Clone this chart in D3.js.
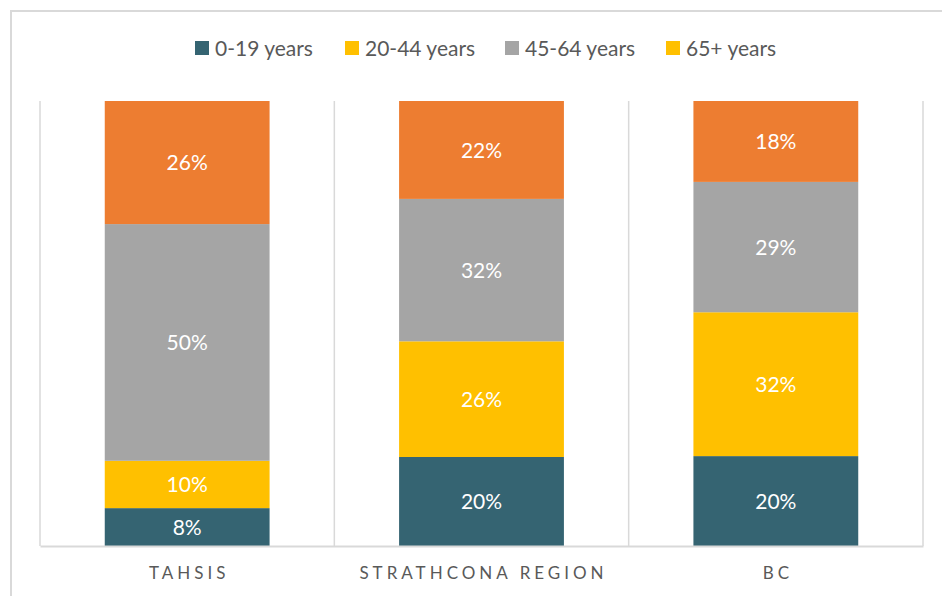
<!DOCTYPE html>
<html>
<head>
<meta charset="utf-8">
<script src="https://cdn.jsdelivr.net/npm/d3@7"></script>
<style>
  body { margin: 0; background: #fff; }
  text { font-family: Lato, "Open Sans", sans-serif; }
</style>
</head>
<body>
<svg id="chart" width="942" height="596"></svg>
<script>
// chart data
var regions = ["TAHSIS", "STRATHCONA REGION", "BC"];
var ageGroups = ["0-19 years", "20-44 years", "45-64 years", "65+ years"];
var age0to19 = [8, 20, 20];
var age20to44 = [10, 26, 32];
var age45to64 = [50, 32, 29];
var age65plus = [26, 22, 18];

var barColors = ["#356472", "#FFC000", "#A5A5A5", "#ED7D31"];
// the original legend shows the 65+ swatch in yellow
var legendColors = ["#356472", "#FFC000", "#A5A5A5", "#FFC000"];

var rows = regions.map(function(r, i) {
    return { region: r, "0-19 years": age0to19[i], "20-44 years": age20to44[i],
             "45-64 years": age45to64[i], "65+ years": age65plus[i] };
});

var svg = d3.select("#chart");
var margin = { left: 40, right: 19, top: 101, bottom: 50 };
var width = 942 - margin.left - margin.right;
var height = 596 - margin.top - margin.bottom;

// outer frame
svg.append("path")
    .attr("d", "M11,600 L11,11 L950,11")
    .attr("fill", "none")
    .attr("stroke", "#d9d9d9")
    .attr("stroke-width", 2);

var g = svg.append("g").attr("transform", "translate(" + margin.left + "," + margin.top + ")");

var x = d3.scaleBand().domain(regions).range([0, width]).paddingInner(0).paddingOuter(0);
var y = d3.scaleLinear().domain([0, 1]).range([height, 0]);

// vertical gridlines between categories
var gridX = [0].concat(regions.map(function(r) { return x(r) + x.bandwidth(); }));
g.selectAll("line.grid")
    .data(gridX)
    .enter().append("line")
    .attr("class", "grid")
    .attr("x1", function(d) { return d; })
    .attr("x2", function(d) { return d; })
    .attr("y1", 0)
    .attr("y2", height)
    .attr("stroke", "#d9d9d9")
    .attr("stroke-width", 1.5);

var stack = d3.stack().keys(ageGroups).offset(d3.stackOffsetExpand);
var series = stack(rows);

var barW = x.bandwidth() * 0.56;

var layer = g.selectAll("g.layer")
    .data(series)
    .enter().append("g")
    .attr("class", "layer")
    .attr("fill", function(d, i) { return barColors[i]; });

layer.selectAll("rect")
    .data(function(d) { return d; })
    .enter().append("rect")
    .attr("x", function(d) { return x(d.data.region) + (x.bandwidth() - barW) / 2; })
    .attr("width", barW)
    .attr("y", function(d) { return y(d[1]); })
    .attr("height", function(d) { return y(d[0]) - y(d[1]); });

layer.selectAll("text")
    .data(function(d) { return d.map(function(p) { p.key = d.key; return p; }); })
    .enter().append("text")
    .attr("x", function(d) { return x(d.data.region) + x.bandwidth() / 2; })
    .attr("y", function(d) { return (y(d[0]) + y(d[1])) / 2; })
    .attr("dy", "0.36em")
    .attr("text-anchor", "middle")
    .attr("fill", "#fff")
    .attr("font-size", 21)
    .text(function(d) { return d.data[d.key] + "%"; });

// bottom axis
var xAxis = g.append("g")
    .attr("transform", "translate(0," + height + ")")
    .call(d3.axisBottom(x).tickSize(0).tickPadding(21));
xAxis.select(".domain").attr("stroke", "#d9d9d9").attr("stroke-width", 2);
xAxis.selectAll("text")
    .attr("font-size", 17)
    .attr("fill", "#595959")
    .attr("letter-spacing", "4px")
    .attr("dx", "2px")
    .style("font-family", "Lato, sans-serif");

// legend
var legendX = [195, 345, 505, 666];
var legend = svg.append("g").selectAll("g")
    .data(ageGroups)
    .enter().append("g")
    .attr("transform", function(d, i) { return "translate(" + legendX[i] + ",48)"; });
legend.append("rect")
    .attr("x", 0).attr("y", -7)
    .attr("width", 14).attr("height", 14)
    .attr("fill", function(d, i) { return legendColors[i]; });
legend.append("text")
    .attr("x", 20)
    .attr("dy", "0.36em")
    .attr("font-size", 21)
    .attr("fill", "#595959")
    .text(function(d) { return d; });
</script>
</body>
</html>
